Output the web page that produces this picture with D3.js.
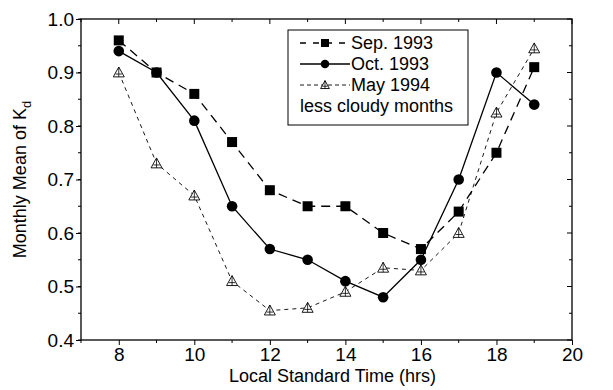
<!DOCTYPE html>
<html>
<head>
<meta charset="utf-8">
<script src="https://cdn.jsdelivr.net/npm/d3@7"></script>
<style>
  body { margin: 0; background: #fff; }
  svg text { font-family: "Liberation Sans Narrow", "Arial Narrow", "Liberation Sans", Arial, sans-serif; fill: #000; }
</style>
</head>
<body>
<svg id="chart" width="613" height="390"></svg>
<script>
// hours of day
const hours = [8, 9, 10, 11, 12, 13, 14, 15, 16, 17, 18, 19];
// monthly mean Kd per hour
const sep1993 = [0.96, 0.90, 0.86, 0.77, 0.68, 0.65, 0.65, 0.60, 0.57, 0.64, 0.75, 0.91];
const oct1993 = [0.94, 0.90, 0.81, 0.65, 0.57, 0.55, 0.51, 0.48, 0.55, 0.70, 0.90, 0.84];
const may1994 = [0.90, 0.73, 0.67, 0.51, 0.455, 0.46, 0.49, 0.535, 0.53, 0.60, 0.825, 0.945];
const xTicks = [8, 10, 12, 14, 16, 18, 20];
const yTicks = [0.4, 0.5, 0.6, 0.7, 0.8, 0.9, 1.0];

const svg = d3.select('#chart');
const margin = { top: 19, right: 41, bottom: 50, left: 81 };
const width = 613, height = 390;
const innerWidth = width - margin.left - margin.right;
const innerHeight = height - margin.top - margin.bottom;

const x = d3.scaleLinear().domain([7, 20]).range([0, innerWidth]);
const y = d3.scaleLinear().domain([0.4, 1.0]).range([innerHeight, 0]);

const g = svg.append('g').attr('transform', `translate(${margin.left},${margin.top})`);

// frame
g.append('rect')
  .attr('width', innerWidth).attr('height', innerHeight)
  .attr('fill', 'none').attr('stroke', '#000').attr('stroke-width', 1.3);

const minorX = d3.range(7, 20.01, 1);
const minorY = d3.range(0.4, 1.001, 0.05);

// bottom axis (ticks outward)
const xAxis = g.append('g')
  .attr('transform', `translate(0,${innerHeight})`)
  .call(d3.axisBottom(x).tickValues(xTicks).tickFormat(d3.format('d')).tickSize(5).tickPadding(3));
xAxis.selectAll('.tick text').attr('font-size', 19);
xAxis.select('.domain').remove();
g.append('g').selectAll('line').data(minorX.filter(d => d % 2 === 1)).join('line')
  .attr('x1', d => x(d)).attr('x2', d => x(d))
  .attr('y1', innerHeight).attr('y2', innerHeight + 3).attr('stroke', '#000');

// left axis
const yAxis = g.append('g')
  .call(d3.axisLeft(y).tickValues(yTicks).tickFormat(d3.format('.1f')).tickSize(5).tickPadding(2));
yAxis.selectAll('.tick text').attr('font-size', 19);
yAxis.select('.domain').remove();
g.append('g').selectAll('line').data(minorY).join('line')
  .attr('x1', -3).attr('x2', 0)
  .attr('y1', d => y(d)).attr('y2', d => y(d)).attr('stroke', '#000');

// mirrored ticks on top and right (inward)
g.append('g').selectAll('line').data(minorX).join('line')
  .attr('x1', d => x(d)).attr('x2', d => x(d))
  .attr('y1', 0).attr('y2', d => d % 2 === 0 ? 5 : 3).attr('stroke', '#000');
g.append('g').selectAll('line').data(minorY).join('line')
  .attr('x1', innerWidth).attr('x2', d => innerWidth - (Math.round(d * 100) % 10 === 0 ? 5 : 3))
  .attr('y1', d => y(d)).attr('y2', d => y(d)).attr('stroke', '#000');

// axis titles
svg.append('text')
  .attr('x', margin.left + innerWidth / 2 + 6).attr('y', 382)
  .attr('text-anchor', 'middle').attr('font-size', 18)
  .text('Local Standard Time (hrs)');

const yt = svg.append('text')
  .attr('transform', `translate(26,${margin.top + innerHeight / 2}) rotate(-90)`)
  .attr('text-anchor', 'middle').attr('font-size', 18);
yt.append('tspan').text('Monthly Mean of K');
yt.append('tspan').attr('font-size', 13).attr('dy', 5).text('d');

// series
const series = [
  { name: 'Sep. 1993', values: sep1993, dash: '9,6', width: 1.3, shape: 'square' },
  { name: 'Oct. 1993', values: oct1993, dash: null, width: 1.3, shape: 'circle' },
  { name: 'May 1994', values: may1994, dash: '4,4', width: 0.9, shape: 'triangle' }
];

const line = d3.line().x(d => x(d[0])).y(d => y(d[1]));

function drawMarker(sel, shape, cx, cy, k = 1) {
  if (shape === 'square') {
    const h = 5 * k;
    sel.append('rect').attr('x', cx - h).attr('y', cy - h).attr('width', 2 * h).attr('height', 2 * h).attr('fill', '#000');
  } else if (shape === 'circle') {
    sel.append('circle').attr('cx', cx).attr('cy', cy).attr('r', 5.3 * k).attr('fill', '#000');
  } else {
    const s = 5.5 * k;
    sel.append('path')
      .attr('d', `M${cx},${cy - s}L${cx + s},${cy + s * 0.8}L${cx - s},${cy + s * 0.8}Z`)
      .attr('fill', '#fff').attr('stroke', '#000').attr('stroke-width', 0.9);
    sel.append('line').attr('x1', cx).attr('x2', cx).attr('y1', cy - s).attr('y2', cy + s * 0.8)
      .attr('stroke', '#000').attr('stroke-width', 0.8);
    sel.append('line').attr('x1', cx - s * 0.6).attr('x2', cx + s * 0.6).attr('y1', cy + 1.5 * k).attr('y2', cy + 1.5 * k)
      .attr('stroke', '#000').attr('stroke-width', 0.8);
  }
}

series.forEach(s => {
  const pts = hours.map((h, i) => [h, s.values[i]]);
  g.append('path').datum(pts)
    .attr('d', line).attr('fill', 'none').attr('stroke', '#000')
    .attr('stroke-width', s.width).attr('stroke-dasharray', s.dash);
  const mg = g.append('g');
  pts.forEach(p => drawMarker(mg, s.shape, x(p[0]), y(p[1])));
});

// legend
const lg = svg.append('g').attr('transform', 'translate(288,30)');
lg.append('rect').attr('width', 180).attr('height', 95)
  .attr('fill', '#fff').attr('stroke', '#000').attr('stroke-width', 1);
series.forEach((s, i) => {
  const ly = 13 + i * 21;
  lg.append('line').attr('x1', 12).attr('x2', 62).attr('y1', ly).attr('y2', ly)
    .attr('stroke', '#000').attr('stroke-width', s.width).attr('stroke-dasharray', s.dash ? (i === 0 ? '6,7' : '4,3') : null);
  drawMarker(lg, s.shape, 37, ly, 0.8);
  lg.append('text').attr('x', 63).attr('y', ly + 6).attr('font-size', 18).text(s.name);
});
lg.append('text').attr('x', 12).attr('y', 82).attr('font-size', 18).text('less cloudy months');
</script>
</body>
</html>
